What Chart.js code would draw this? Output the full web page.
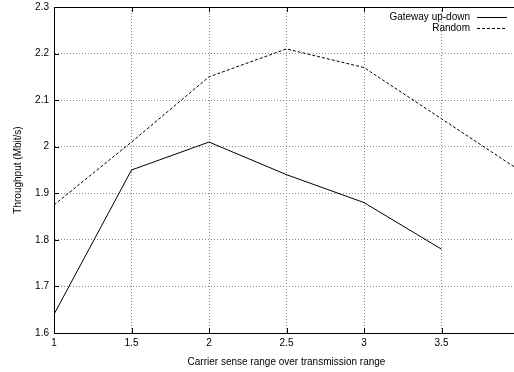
<!DOCTYPE html>
<html>
<head>
<meta charset="utf-8">
<script src="https://cdn.jsdelivr.net/npm/chart.js@4"></script>
<style>
  html, body { margin: 0; padding: 0; background: #fff; overflow: hidden; }
  #wrap { position: absolute; left: 0; top: -4px; width: 530px; height: 376px; }
</style>
</head>
<body>
<div id="wrap"><canvas id="chart"></canvas></div>
<script>
// --- datos ---
const xValues = [1, 1.5, 2, 2.5, 3, 3.5, 4];
const gatewayValues = [1.64, 1.95, 2.01, 1.94, 1.88, 1.78];
const randomValues = [1.875, 2.01, 2.15, 2.21, 2.17, 2.06, 1.95];
const xTickLabels = ['1', '1.5', '2', '2.5', '3', '3.5', ''];
const yTickLabels = ['1.6', '1.7', '1.8', '1.9', '2', '2.1', '2.2', '2.3'];
const seriesNames = ['Gateway up-down', 'Random'];

const FONT = 'Liberation Sans, Arial, sans-serif';

function toPoints(values) {
    return values.map((v, i) => ({ x: xValues[i], y: v }));
}

// borde superior, marcas internas y leyenda estilo gnuplot
const gnuplotFrame = {
    id: 'gnuplotFrame',
    afterDraw(chart) {
        const { ctx, chartArea: a, scales } = chart;
        ctx.save();
        ctx.strokeStyle = '#000';
        ctx.lineWidth = 1;
        ctx.beginPath();
        ctx.moveTo(a.left, a.top + 0.5);
        ctx.lineTo(a.right, a.top + 0.5);
        ctx.stroke();

        ctx.beginPath();
        scales.x.ticks.forEach(t => {
            const px = Math.round(scales.x.getPixelForValue(t.value)) + 0.5;
            ctx.moveTo(px, a.bottom); ctx.lineTo(px, a.bottom - 5);
            ctx.moveTo(px, a.top); ctx.lineTo(px, a.top + 5);
        });
        scales.y.ticks.forEach(t => {
            const py = Math.round(scales.y.getPixelForValue(t.value)) + 0.5;
            ctx.moveTo(a.left, py); ctx.lineTo(a.left + 5, py);
        });
        ctx.stroke();

        // leyenda
        ctx.font = '10px ' + FONT;
        ctx.fillStyle = '#000';
        ctx.textAlign = 'right';
        ctx.textBaseline = 'middle';
        chart.data.datasets.forEach((ds, i) => {
            const y = a.top + 10.5 + i * 11;
            ctx.fillText(ds.label, a.right - 49, y);
            ctx.setLineDash(ds.borderDash || []);
            ctx.beginPath();
            ctx.moveTo(a.right - 42, y);
            ctx.lineTo(a.right - 12, y);
            ctx.stroke();
        });
        ctx.restore();
    }
};

const gridStyle = {
    color: '#888',
    lineWidth: 1,
    drawTicks: false
};

new Chart(document.getElementById('chart'), {
    type: 'line',
    data: {
        datasets: [{
            label: seriesNames[0],
            data: toPoints(gatewayValues),
            borderColor: '#000',
            borderWidth: 1,
            pointRadius: 0,
            tension: 0
        }, {
            label: seriesNames[1],
            data: toPoints(randomValues),
            borderColor: '#000',
            borderWidth: 1,
            borderDash: [3, 2],
            pointRadius: 0,
            tension: 0
        }]
    },
    options: {
        animation: false,
        responsive: true,
        maintainAspectRatio: false,
        layout: { padding: { top: 3, right: 11, bottom: 0, left: 12 } },
        plugins: { legend: { display: false }, tooltip: { enabled: false } },
        scales: {
            x: {
                type: 'linear',
                min: 1,
                max: 4,
                ticks: {
                    stepSize: 0.5,
                    color: '#000',
                    padding: 4,
                    maxRotation: 0,
                    font: { family: FONT, size: 10 },
                    callback: (v, i) => xTickLabels[i] ?? ''
                },
                grid: gridStyle,
                border: { display: true, color: '#000', width: 1, dash: [1, 2] },
                title: {
                    display: true,
                    text: 'Carrier sense range over transmission range',
                    color: '#000',
                    font: { family: FONT, size: 10 },
                    padding: { top: 3, bottom: 4 }
                }
            },
            y: {
                min: 1.6,
                max: 2.3,
                ticks: {
                    stepSize: 0.1,
                    color: '#000',
                    padding: 5,
                    font: { family: FONT, size: 10 },
                    callback: (v, i) => yTickLabels[i] ?? ''
                },
                grid: gridStyle,
                border: { display: true, color: '#000', width: 1, dash: [1, 2] },
                title: {
                    display: true,
                    text: 'Throughput (Mbit/s)',
                    color: '#000',
                    font: { family: FONT, size: 10 },
                    padding: { top: 0, bottom: 4 }
                },
                afterFit(scale) { scale.width = 42; }
            }
        }
    },
    plugins: [gnuplotFrame]
});
</script>
</body>
</html>
